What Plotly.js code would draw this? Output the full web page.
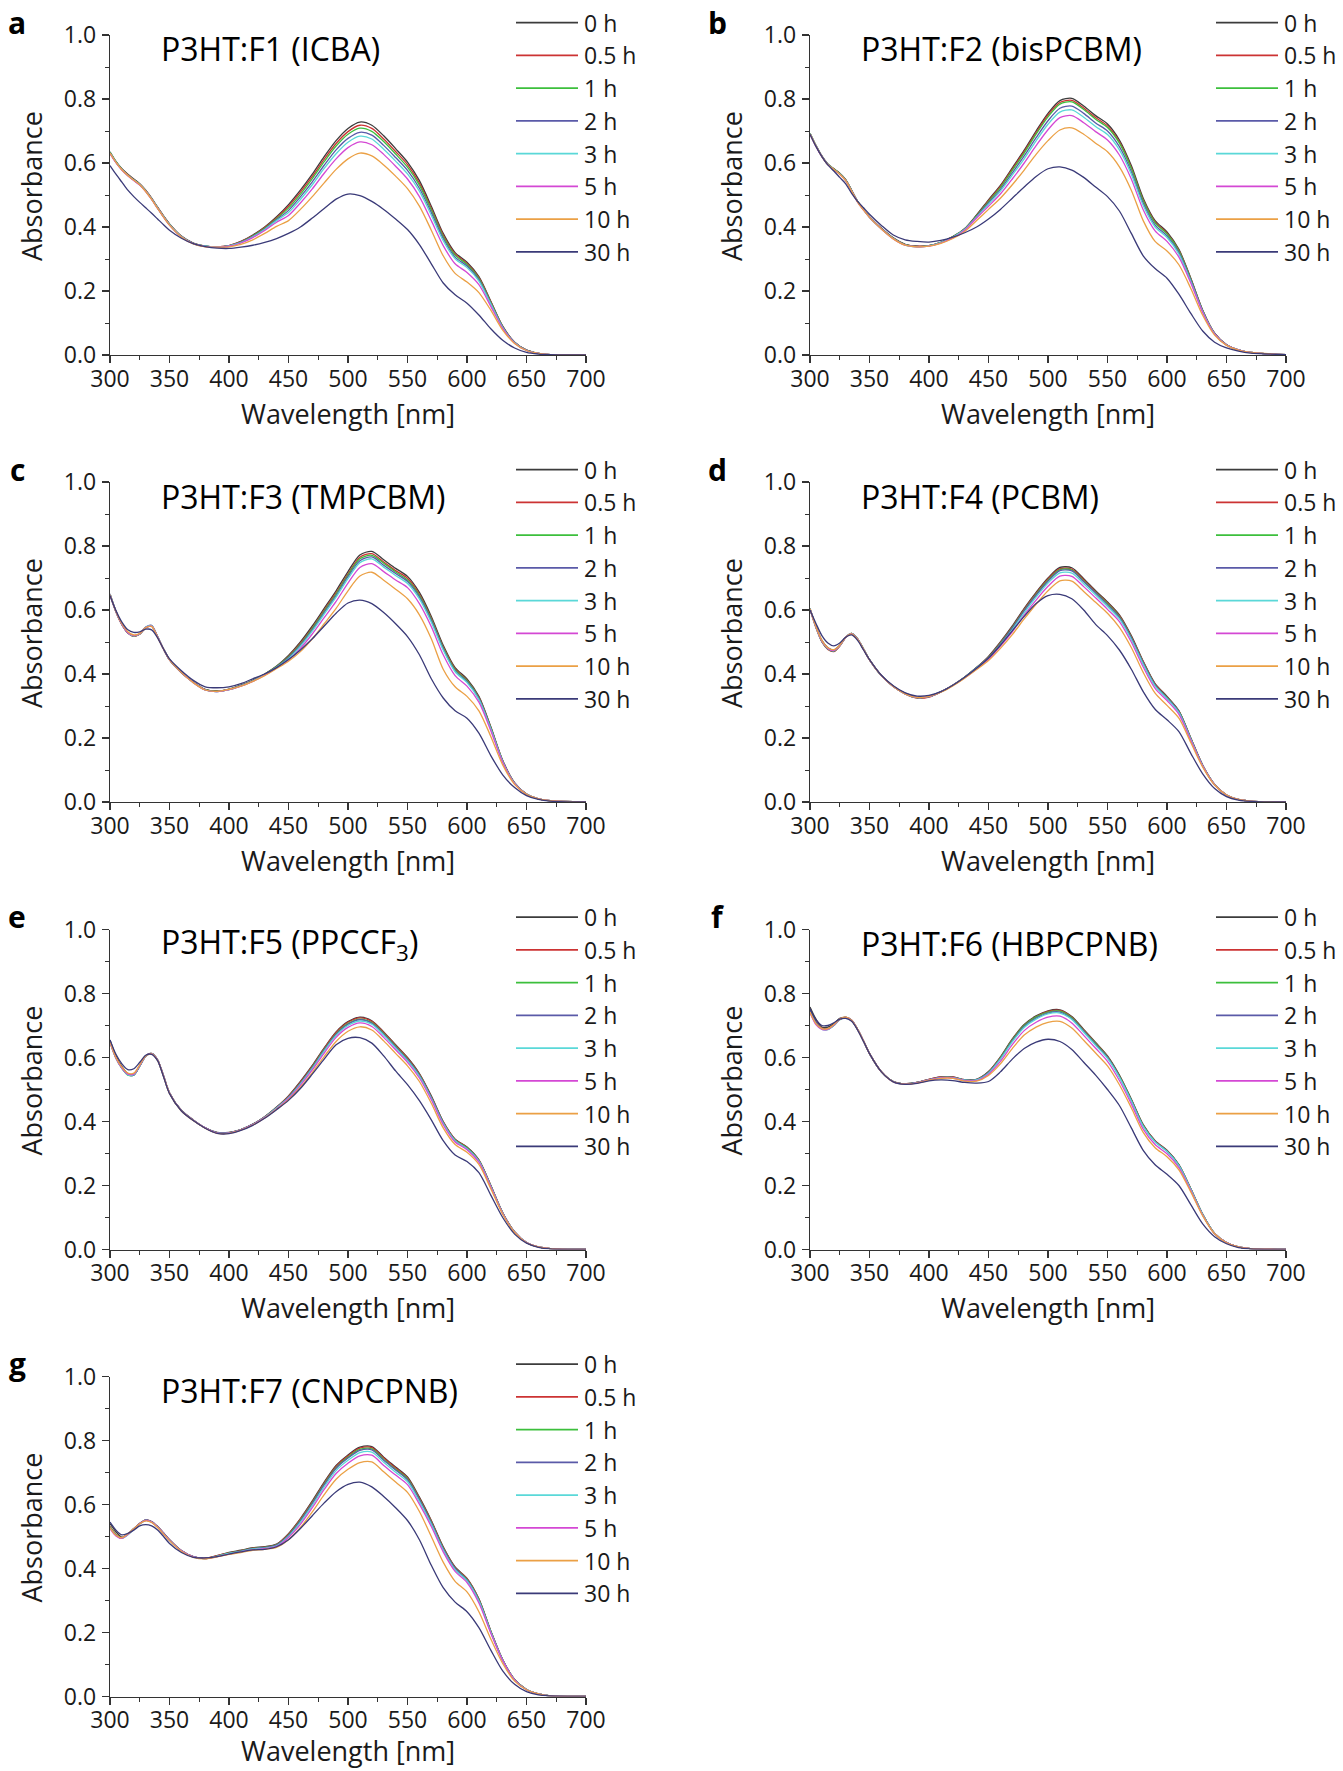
<!DOCTYPE html>
<html><head><meta charset="utf-8">
<script src="https://cdn.plot.ly/plotly-3.0.1.min.js"></script>
<style>html,body{margin:0;padding:0;background:#fff}</style>
</head><body>
<div id="chart" style="width:1343px;height:1771px"></div>
<script>
// ---------------- DATA ----------------
const wavelength = [300,305,310,315,320,325,330,335,340,345,350,
  360,370,380,390,400, 410,420,430,440,450,
  460,470,480,490,500,510,520,530,540,550,
  560,570,580,590,600,610,620,630,640,650,660,670,700];

const hourLabels = ['0 h','0.5 h','1 h','2 h','3 h','5 h','10 h','30 h'];
const panelLetters = ['a','b','c','d','e','f','g'];
const panelTitles = ['P3HT:F1 (ICBA)','P3HT:F2 (bisPCBM)','P3HT:F3 (TMPCBM)','P3HT:F4 (PCBM)',
  'P3HT:F5 (PPCCF<sub>3</sub>)','P3HT:F6 (HBPCPNB)','P3HT:F7 (CNPCPNB)'];
const xTickVals = [300,350,400,450,500,550,600,650,700];
const xTickText = ['300','350','400','450','500','550','600','650','700'];
const yTickVals = [0,0.2,0.4,0.6,0.8,1.0];
const yTickText = ['0.0','0.2','0.4','0.6','0.8','1.0'];

// Panel a: P3HT:F1 (ICBA) — rows: 0,0.5,1,2,3,5,10,30 h
const absF1 = [
 [0.635,0.605,0.582,0.565,0.55,0.535,0.515,0.49,0.462,0.435,0.41, 0.372,0.35,0.34,0.338,0.342, 0.355,0.375,0.40,0.432,0.47, 0.515,0.565,0.62,0.67,0.708,0.728,0.718,0.685,0.645,0.603, 0.545,0.465,0.38,0.32,0.29,0.245,0.168,0.09,0.04,0.015,0.005,0.001,0],
 [0.632,0.603,0.58,0.563,0.548,0.534,0.514,0.489,0.461,0.434,0.409, 0.371,0.349,0.34,0.338,0.342, 0.354,0.373,0.398,0.429,0.465, 0.509,0.558,0.612,0.661,0.698,0.718,0.708,0.675,0.636,0.595, 0.537,0.458,0.375,0.316,0.286,0.242,0.166,0.089,0.04,0.015,0.005,0.001,0],
 [0.633,0.604,0.58,0.562,0.547,0.533,0.513,0.488,0.46,0.433,0.408, 0.37,0.349,0.34,0.338,0.341, 0.353,0.372,0.396,0.426,0.459, 0.502,0.551,0.604,0.653,0.69,0.709,0.699,0.667,0.628,0.587, 0.531,0.453,0.37,0.312,0.283,0.239,0.164,0.088,0.039,0.015,0.005,0.001,0],
 [0.631,0.602,0.579,0.561,0.546,0.532,0.512,0.487,0.459,0.432,0.407, 0.37,0.348,0.34,0.338,0.341, 0.352,0.37,0.394,0.423,0.452, 0.494,0.541,0.593,0.641,0.677,0.696,0.687,0.655,0.617,0.577, 0.521,0.445,0.364,0.306,0.278,0.235,0.161,0.087,0.039,0.015,0.005,0.001,0],
 [0.632,0.603,0.58,0.562,0.547,0.533,0.513,0.488,0.46,0.433,0.408, 0.37,0.348,0.34,0.338,0.341, 0.351,0.369,0.392,0.42,0.445, 0.486,0.532,0.583,0.629,0.665,0.684,0.675,0.643,0.606,0.566, 0.512,0.437,0.357,0.301,0.273,0.231,0.159,0.086,0.038,0.014,0.005,0.001,0],
 [0.63,0.601,0.578,0.56,0.545,0.531,0.511,0.486,0.458,0.431,0.406, 0.369,0.348,0.339,0.337,0.34, 0.35,0.367,0.389,0.415,0.436, 0.475,0.519,0.568,0.613,0.648,0.666,0.657,0.627,0.59,0.55, 0.495,0.42,0.342,0.285,0.258,0.22,0.152,0.083,0.037,0.014,0.005,0.001,0],
 [0.631,0.602,0.579,0.561,0.546,0.532,0.511,0.486,0.458,0.431,0.406, 0.369,0.347,0.338,0.337,0.338, 0.346,0.36,0.38,0.402,0.42, 0.455,0.495,0.538,0.58,0.613,0.631,0.622,0.594,0.559,0.52, 0.465,0.39,0.31,0.255,0.228,0.195,0.14,0.078,0.036,0.014,0.005,0.001,0],
 [0.592,0.565,0.54,0.515,0.495,0.477,0.46,0.443,0.425,0.407,0.39, 0.365,0.348,0.339,0.334,0.333, 0.337,0.343,0.352,0.364,0.38, 0.40,0.428,0.458,0.487,0.503,0.498,0.48,0.455,0.425,0.392, 0.345,0.285,0.225,0.188,0.162,0.125,0.082,0.046,0.022,0.008,0.003,0.001,0]
];

// Panel b: P3HT:F2 (bisPCBM)
const absF2 = [
 [0.693,0.655,0.622,0.597,0.582,0.568,0.548,0.515,0.48,0.455,0.432, 0.396,0.366,0.346,0.34,0.342, 0.352,0.37,0.395,0.438,0.485, 0.53,0.585,0.64,0.70,0.755,0.795,0.802,0.778,0.748,0.722, 0.672,0.592,0.49,0.42,0.385,0.33,0.24,0.14,0.068,0.032,0.016,0.008,0.001],
 [0.692,0.654,0.621,0.596,0.581,0.567,0.547,0.514,0.48,0.455,0.431, 0.395,0.365,0.345,0.34,0.342, 0.352,0.369,0.394,0.436,0.482, 0.527,0.581,0.636,0.695,0.75,0.789,0.796,0.772,0.742,0.716, 0.666,0.586,0.485,0.416,0.381,0.327,0.238,0.139,0.068,0.032,0.016,0.008,0.001],
 [0.692,0.654,0.621,0.596,0.581,0.567,0.547,0.514,0.48,0.455,0.431, 0.395,0.365,0.345,0.339,0.342, 0.352,0.369,0.394,0.435,0.479, 0.523,0.577,0.631,0.69,0.744,0.784,0.791,0.767,0.737,0.711, 0.662,0.583,0.482,0.413,0.378,0.325,0.237,0.138,0.067,0.032,0.016,0.008,0.001],
 [0.691,0.653,0.62,0.595,0.58,0.566,0.546,0.513,0.479,0.454,0.431, 0.395,0.364,0.344,0.339,0.341, 0.351,0.368,0.393,0.433,0.475, 0.517,0.569,0.622,0.679,0.732,0.771,0.778,0.755,0.725,0.70, 0.651,0.573,0.474,0.406,0.372,0.32,0.234,0.137,0.067,0.032,0.016,0.008,0.001],
 [0.692,0.654,0.621,0.596,0.58,0.566,0.546,0.513,0.479,0.454,0.43, 0.394,0.364,0.343,0.338,0.341, 0.351,0.368,0.392,0.431,0.471, 0.512,0.562,0.613,0.669,0.721,0.759,0.766,0.743,0.714,0.689, 0.641,0.565,0.467,0.40,0.367,0.315,0.23,0.135,0.066,0.031,0.016,0.008,0.001],
 [0.69,0.652,0.62,0.595,0.579,0.565,0.545,0.512,0.478,0.453,0.43, 0.394,0.363,0.343,0.338,0.34, 0.35,0.366,0.39,0.428,0.465, 0.503,0.55,0.60,0.654,0.704,0.742,0.748,0.726,0.698,0.672, 0.625,0.55,0.454,0.388,0.355,0.306,0.225,0.133,0.065,0.031,0.016,0.008,0.001],
 [0.691,0.653,0.62,0.595,0.58,0.565,0.545,0.512,0.478,0.453,0.43, 0.394,0.363,0.343,0.338,0.34, 0.349,0.364,0.386,0.42,0.455, 0.49,0.532,0.578,0.627,0.67,0.703,0.71,0.69,0.662,0.635, 0.588,0.515,0.42,0.355,0.325,0.282,0.208,0.124,0.062,0.03,0.015,0.008,0.001],
 [0.69,0.652,0.62,0.594,0.575,0.555,0.535,0.505,0.48,0.46,0.44, 0.405,0.375,0.36,0.355,0.353, 0.358,0.368,0.382,0.40,0.425, 0.455,0.49,0.525,0.558,0.582,0.588,0.578,0.555,0.525,0.495, 0.45,0.38,0.31,0.27,0.24,0.19,0.13,0.075,0.04,0.022,0.012,0.006,0.001]
];

// Panel c: P3HT:F3 (TMPCBM)
const absF3 = [
 [0.65,0.595,0.555,0.528,0.518,0.525,0.545,0.55,0.516,0.478,0.445, 0.405,0.375,0.352,0.347,0.353, 0.365,0.38,0.40,0.425,0.458, 0.50,0.55,0.605,0.66,0.72,0.772,0.783,0.757,0.73,0.705, 0.655,0.58,0.49,0.42,0.385,0.33,0.235,0.13,0.06,0.025,0.01,0.004,0],
 [0.648,0.594,0.554,0.528,0.518,0.524,0.544,0.549,0.515,0.477,0.444, 0.404,0.374,0.351,0.346,0.352, 0.364,0.379,0.399,0.423,0.455, 0.496,0.545,0.60,0.654,0.713,0.765,0.776,0.75,0.723,0.699, 0.649,0.574,0.485,0.416,0.381,0.327,0.233,0.129,0.06,0.025,0.01,0.004,0],
 [0.649,0.595,0.555,0.529,0.519,0.525,0.545,0.55,0.516,0.478,0.445, 0.405,0.374,0.351,0.346,0.352, 0.364,0.379,0.399,0.423,0.453, 0.493,0.542,0.596,0.65,0.709,0.76,0.771,0.746,0.719,0.694, 0.645,0.571,0.482,0.413,0.379,0.325,0.232,0.128,0.059,0.025,0.01,0.004,0],
 [0.65,0.596,0.556,0.53,0.52,0.526,0.547,0.552,0.517,0.478,0.445, 0.405,0.374,0.35,0.345,0.351, 0.363,0.378,0.398,0.422,0.451, 0.49,0.538,0.592,0.645,0.704,0.754,0.766,0.74,0.714,0.689, 0.64,0.567,0.479,0.41,0.376,0.323,0.23,0.127,0.059,0.025,0.01,0.004,0],
 [0.649,0.595,0.555,0.529,0.519,0.525,0.546,0.551,0.516,0.478,0.445, 0.405,0.373,0.35,0.345,0.351, 0.363,0.378,0.397,0.421,0.448, 0.486,0.534,0.587,0.64,0.698,0.748,0.76,0.734,0.708,0.683, 0.635,0.562,0.475,0.407,0.373,0.32,0.228,0.126,0.058,0.024,0.01,0.004,0],
 [0.648,0.595,0.555,0.529,0.52,0.526,0.545,0.55,0.516,0.478,0.445, 0.405,0.373,0.35,0.345,0.351, 0.362,0.377,0.396,0.419,0.444, 0.48,0.525,0.576,0.627,0.684,0.733,0.745,0.72,0.694,0.67, 0.62,0.548,0.46,0.395,0.362,0.312,0.223,0.124,0.057,0.024,0.01,0.004,0],
 [0.648,0.596,0.557,0.532,0.522,0.527,0.545,0.549,0.515,0.478,0.445, 0.405,0.373,0.35,0.346,0.352, 0.362,0.377,0.395,0.417,0.44, 0.47,0.51,0.557,0.605,0.66,0.706,0.718,0.693,0.665,0.635, 0.585,0.51,0.415,0.36,0.33,0.285,0.205,0.116,0.055,0.024,0.01,0.004,0],
 [0.645,0.598,0.562,0.538,0.53,0.532,0.54,0.538,0.513,0.478,0.447, 0.41,0.38,0.36,0.357,0.36, 0.37,0.385,0.40,0.42,0.445, 0.475,0.51,0.55,0.59,0.622,0.631,0.62,0.592,0.557,0.517, 0.46,0.385,0.325,0.285,0.262,0.215,0.145,0.085,0.045,0.02,0.008,0.003,0]
];

// Panel d: P3HT:F4 (PCBM)
const absF4 = [
 [0.605,0.55,0.505,0.482,0.475,0.49,0.515,0.527,0.51,0.478,0.445, 0.395,0.362,0.34,0.327,0.33, 0.345,0.365,0.39,0.42,0.455, 0.50,0.55,0.605,0.655,0.70,0.733,0.732,0.698,0.66,0.625, 0.585,0.52,0.44,0.37,0.33,0.285,0.20,0.115,0.055,0.022,0.008,0.003,0],
 [0.603,0.545,0.50,0.477,0.47,0.487,0.514,0.527,0.51,0.478,0.445, 0.395,0.361,0.338,0.325,0.328, 0.344,0.365,0.39,0.42,0.453, 0.498,0.547,0.602,0.652,0.697,0.729,0.728,0.695,0.657,0.622, 0.582,0.517,0.438,0.368,0.328,0.284,0.199,0.115,0.055,0.022,0.008,0.003,0],
 [0.604,0.546,0.501,0.478,0.471,0.488,0.515,0.527,0.51,0.478,0.445, 0.395,0.361,0.338,0.326,0.329, 0.344,0.365,0.39,0.42,0.452, 0.496,0.545,0.599,0.649,0.693,0.726,0.725,0.691,0.655,0.619, 0.579,0.515,0.436,0.366,0.327,0.283,0.198,0.114,0.055,0.022,0.008,0.003,0],
 [0.603,0.546,0.502,0.479,0.472,0.488,0.514,0.526,0.509,0.477,0.444, 0.395,0.361,0.338,0.326,0.329, 0.344,0.365,0.39,0.42,0.451, 0.494,0.543,0.597,0.646,0.69,0.723,0.722,0.688,0.653,0.616, 0.577,0.513,0.434,0.365,0.325,0.282,0.197,0.114,0.054,0.022,0.008,0.003,0],
 [0.604,0.547,0.503,0.48,0.473,0.489,0.515,0.527,0.51,0.478,0.445, 0.395,0.361,0.338,0.327,0.33, 0.344,0.364,0.389,0.418,0.449, 0.491,0.538,0.591,0.64,0.684,0.716,0.715,0.682,0.647,0.611, 0.572,0.508,0.43,0.362,0.323,0.279,0.196,0.113,0.054,0.022,0.008,0.003,0],
 [0.603,0.547,0.503,0.48,0.473,0.489,0.515,0.526,0.509,0.477,0.444, 0.395,0.361,0.338,0.327,0.33, 0.344,0.364,0.388,0.416,0.446, 0.487,0.532,0.584,0.631,0.674,0.706,0.705,0.673,0.638,0.602, 0.564,0.50,0.422,0.355,0.317,0.274,0.193,0.112,0.054,0.022,0.008,0.003,0],
 [0.603,0.548,0.505,0.482,0.476,0.49,0.515,0.525,0.508,0.477,0.444, 0.395,0.361,0.338,0.327,0.33, 0.343,0.363,0.387,0.414,0.442, 0.48,0.523,0.572,0.618,0.66,0.691,0.69,0.658,0.624,0.59, 0.546,0.483,0.405,0.34,0.302,0.262,0.186,0.109,0.053,0.022,0.008,0.003,0],
 [0.60,0.558,0.52,0.497,0.488,0.497,0.515,0.522,0.505,0.475,0.445, 0.396,0.363,0.341,0.331,0.333, 0.345,0.365,0.39,0.418,0.45, 0.49,0.535,0.58,0.62,0.645,0.649,0.635,0.60,0.555,0.52, 0.475,0.415,0.345,0.29,0.257,0.22,0.152,0.088,0.042,0.017,0.006,0.002,0]
];

// Panel e: P3HT:F5 (PPCCF3)
const absF5 = [
 [0.655,0.605,0.572,0.55,0.548,0.575,0.605,0.613,0.593,0.543,0.49, 0.435,0.405,0.38,0.366,0.366, 0.375,0.392,0.415,0.445,0.48, 0.525,0.575,0.63,0.68,0.712,0.726,0.715,0.68,0.64,0.60, 0.55,0.48,0.40,0.345,0.32,0.28,0.20,0.115,0.055,0.022,0.008,0.003,0],
 [0.65,0.60,0.568,0.547,0.546,0.574,0.604,0.612,0.592,0.542,0.489, 0.434,0.404,0.38,0.365,0.365, 0.375,0.391,0.415,0.444,0.479, 0.523,0.573,0.628,0.678,0.71,0.724,0.713,0.678,0.638,0.598, 0.548,0.478,0.399,0.344,0.319,0.279,0.20,0.115,0.055,0.022,0.008,0.003,0],
 [0.648,0.598,0.566,0.545,0.545,0.573,0.604,0.612,0.592,0.542,0.489, 0.434,0.404,0.38,0.365,0.365, 0.375,0.391,0.414,0.443,0.477, 0.52,0.57,0.625,0.674,0.706,0.72,0.709,0.675,0.635,0.595, 0.546,0.476,0.397,0.342,0.318,0.278,0.199,0.114,0.055,0.022,0.008,0.003,0],
 [0.65,0.60,0.567,0.546,0.545,0.573,0.604,0.612,0.592,0.542,0.489, 0.434,0.404,0.38,0.365,0.365, 0.375,0.391,0.414,0.443,0.476, 0.519,0.568,0.623,0.672,0.704,0.718,0.707,0.673,0.633,0.593, 0.544,0.475,0.396,0.341,0.316,0.277,0.198,0.114,0.055,0.022,0.008,0.003,0],
 [0.648,0.598,0.566,0.546,0.546,0.574,0.604,0.612,0.592,0.542,0.489, 0.434,0.404,0.38,0.364,0.364, 0.374,0.39,0.413,0.442,0.474, 0.517,0.566,0.62,0.669,0.70,0.714,0.704,0.67,0.63,0.59, 0.541,0.472,0.394,0.34,0.315,0.276,0.197,0.113,0.054,0.022,0.008,0.003,0],
 [0.647,0.598,0.567,0.548,0.548,0.575,0.605,0.612,0.592,0.542,0.489, 0.434,0.404,0.38,0.364,0.364, 0.374,0.39,0.412,0.44,0.472, 0.513,0.561,0.614,0.663,0.694,0.708,0.697,0.663,0.624,0.585, 0.536,0.468,0.39,0.336,0.312,0.273,0.195,0.112,0.054,0.022,0.008,0.003,0],
 [0.648,0.60,0.57,0.551,0.551,0.577,0.605,0.611,0.591,0.541,0.488, 0.433,0.403,0.379,0.363,0.363, 0.373,0.389,0.411,0.438,0.468, 0.507,0.553,0.603,0.65,0.682,0.696,0.686,0.652,0.613,0.574, 0.525,0.457,0.38,0.328,0.304,0.266,0.19,0.11,0.053,0.021,0.008,0.003,0],
 [0.655,0.61,0.58,0.562,0.565,0.585,0.607,0.61,0.59,0.54,0.487, 0.433,0.403,0.379,0.363,0.362, 0.372,0.388,0.41,0.437,0.466, 0.503,0.548,0.595,0.64,0.66,0.662,0.645,0.605,0.558,0.515, 0.465,0.405,0.34,0.295,0.275,0.24,0.17,0.10,0.048,0.02,0.007,0.002,0]
];

// Panel f: P3HT:F6 (HBPCPNB)
const absF6 = [
 [0.758,0.72,0.695,0.695,0.705,0.722,0.725,0.715,0.688,0.652,0.613, 0.556,0.525,0.518,0.522,0.532, 0.539,0.539,0.531,0.532,0.556, 0.602,0.658,0.703,0.73,0.746,0.749,0.728,0.688,0.647,0.605, 0.545,0.47,0.39,0.34,0.31,0.265,0.19,0.11,0.05,0.022,0.008,0.003,0],
 [0.75,0.712,0.692,0.69,0.702,0.72,0.725,0.717,0.688,0.652,0.613, 0.556,0.525,0.518,0.522,0.532, 0.539,0.539,0.531,0.532,0.555, 0.60,0.656,0.701,0.728,0.744,0.747,0.726,0.686,0.645,0.603, 0.543,0.468,0.389,0.339,0.309,0.264,0.19,0.11,0.05,0.022,0.008,0.003,0],
 [0.745,0.708,0.69,0.688,0.70,0.718,0.725,0.716,0.688,0.651,0.612, 0.555,0.525,0.518,0.522,0.531, 0.538,0.538,0.53,0.531,0.554, 0.599,0.655,0.70,0.727,0.742,0.745,0.724,0.684,0.644,0.602, 0.542,0.468,0.388,0.338,0.308,0.264,0.189,0.11,0.05,0.022,0.008,0.003,0],
 [0.748,0.71,0.691,0.689,0.701,0.719,0.725,0.716,0.688,0.651,0.612, 0.555,0.525,0.518,0.522,0.531, 0.538,0.538,0.53,0.531,0.553, 0.597,0.652,0.697,0.723,0.739,0.742,0.721,0.682,0.641,0.60, 0.54,0.466,0.386,0.337,0.307,0.263,0.188,0.109,0.05,0.022,0.008,0.003,0],
 [0.742,0.705,0.688,0.687,0.70,0.718,0.725,0.716,0.688,0.651,0.612, 0.555,0.524,0.517,0.521,0.53, 0.537,0.537,0.529,0.53,0.551, 0.595,0.649,0.694,0.72,0.736,0.739,0.719,0.679,0.638,0.597, 0.538,0.464,0.385,0.336,0.306,0.262,0.188,0.109,0.05,0.022,0.008,0.003,0],
 [0.74,0.703,0.688,0.688,0.701,0.719,0.725,0.716,0.688,0.651,0.612, 0.555,0.524,0.517,0.521,0.53, 0.536,0.536,0.528,0.528,0.548, 0.588,0.64,0.684,0.71,0.726,0.729,0.708,0.669,0.629,0.588, 0.528,0.455,0.376,0.328,0.299,0.256,0.184,0.107,0.049,0.022,0.008,0.003,0],
 [0.742,0.706,0.69,0.69,0.703,0.72,0.726,0.716,0.688,0.651,0.612, 0.555,0.524,0.517,0.52,0.529, 0.535,0.535,0.526,0.526,0.544, 0.58,0.628,0.67,0.695,0.71,0.713,0.692,0.654,0.614,0.574, 0.515,0.443,0.366,0.318,0.29,0.249,0.18,0.105,0.049,0.021,0.008,0.003,0],
 [0.752,0.718,0.70,0.70,0.708,0.72,0.722,0.713,0.686,0.65,0.612, 0.555,0.524,0.516,0.519,0.527, 0.53,0.528,0.522,0.52,0.525, 0.555,0.595,0.628,0.648,0.657,0.65,0.625,0.585,0.545,0.50, 0.45,0.38,0.31,0.265,0.235,0.20,0.14,0.08,0.04,0.018,0.006,0.002,0]
];

// Panel g: P3HT:F7 (CNPCPNB)
const absF7 = [
 [0.54,0.515,0.498,0.508,0.525,0.54,0.551,0.546,0.53,0.51,0.489, 0.455,0.437,0.432,0.44,0.45, 0.457,0.465,0.468,0.476,0.509, 0.556,0.611,0.67,0.722,0.755,0.779,0.781,0.748,0.717,0.686, 0.623,0.55,0.468,0.405,0.369,0.305,0.205,0.115,0.053,0.022,0.008,0.002,0],
 [0.532,0.508,0.496,0.507,0.524,0.541,0.552,0.547,0.531,0.511,0.49, 0.456,0.437,0.432,0.44,0.449, 0.456,0.464,0.467,0.475,0.507, 0.554,0.608,0.667,0.719,0.752,0.776,0.778,0.745,0.714,0.683, 0.62,0.548,0.466,0.403,0.368,0.304,0.204,0.115,0.053,0.022,0.008,0.002,0],
 [0.53,0.506,0.495,0.506,0.523,0.54,0.551,0.546,0.53,0.51,0.489, 0.455,0.436,0.431,0.439,0.448, 0.455,0.463,0.466,0.474,0.505, 0.551,0.605,0.664,0.715,0.748,0.772,0.774,0.741,0.71,0.68, 0.617,0.545,0.464,0.401,0.366,0.302,0.203,0.114,0.053,0.022,0.008,0.002,0],
 [0.528,0.505,0.495,0.507,0.524,0.541,0.552,0.547,0.531,0.511,0.49, 0.456,0.437,0.431,0.438,0.447, 0.454,0.462,0.465,0.473,0.503, 0.549,0.603,0.661,0.713,0.745,0.769,0.771,0.738,0.708,0.677, 0.615,0.543,0.462,0.40,0.364,0.30,0.202,0.114,0.052,0.022,0.008,0.002,0],
 [0.527,0.504,0.494,0.505,0.522,0.539,0.55,0.545,0.529,0.509,0.488, 0.455,0.436,0.431,0.438,0.447, 0.453,0.461,0.464,0.471,0.50, 0.544,0.597,0.655,0.706,0.738,0.762,0.764,0.732,0.701,0.671, 0.609,0.538,0.458,0.396,0.361,0.298,0.201,0.113,0.052,0.022,0.008,0.002,0],
 [0.525,0.502,0.494,0.506,0.523,0.54,0.55,0.545,0.529,0.509,0.488, 0.455,0.436,0.431,0.437,0.445, 0.452,0.459,0.462,0.469,0.497, 0.538,0.59,0.647,0.697,0.729,0.752,0.754,0.722,0.692,0.662, 0.601,0.531,0.452,0.391,0.356,0.292,0.198,0.112,0.052,0.021,0.008,0.002,0],
 [0.527,0.504,0.496,0.508,0.524,0.54,0.549,0.544,0.528,0.508,0.487, 0.454,0.435,0.43,0.436,0.444, 0.45,0.457,0.46,0.466,0.49, 0.528,0.577,0.631,0.679,0.71,0.731,0.733,0.702,0.67,0.638, 0.578,0.50,0.42,0.36,0.327,0.265,0.18,0.103,0.048,0.021,0.008,0.002,0],
 [0.545,0.52,0.505,0.51,0.52,0.533,0.537,0.533,0.52,0.50,0.478, 0.45,0.435,0.433,0.437,0.445, 0.452,0.458,0.46,0.468,0.49, 0.525,0.565,0.605,0.64,0.663,0.67,0.655,0.625,0.59,0.55, 0.49,0.41,0.34,0.295,0.265,0.215,0.145,0.08,0.038,0.015,0.005,0.002,0]
];

const panelData = [absF1, absF2, absF3, absF4, absF5, absF6, absF7];
const seriesColors = ['#3c3c3c','#cc3333','#3cbf3c','#5a5aa8','#5ad8d8','#d448d4','#eba045','#3a3a78'];

// ---------------- LAYOUT (pixel geometry) ----------------
const W = 1343, H = 1771;
const colLeft = [110, 810];
const rowTop = [35, 482, 929.5, 1376.5];
const xTitleGap = [58, 58, 58, 54];
const plotW = 476, plotH = 320;
const px = x => x / W;
const py = y => 1 - y / H;
const FONT = "'Open Sans', 'Noto Sans', sans-serif";
const INK = '#1a1a1a';

const traces = [];
const layout = {
  width: W, height: H,
  margin: {l: 0, r: 0, t: 0, b: 0},
  paper_bgcolor: '#ffffff', plot_bgcolor: '#ffffff',
  showlegend: false,
  font: {family: FONT, color: INK},
  annotations: [], shapes: []
};

panelData.forEach((series, i) => {
  const col = i % 2, row = Math.floor(i / 2);
  const L = colLeft[col], T = rowTop[row];
  const sfx = i === 0 ? '' : String(i + 1);
  const xa = 'x' + sfx, ya = 'y' + sfx;

  layout['xaxis' + sfx] = {
    domain: [px(L), px(L + plotW)], anchor: ya,
    range: [300, 700], fixedrange: true,
    tickmode: 'array', tickvals: xTickVals, ticktext: xTickText,
    ticks: 'outside', ticklen: 7, tickwidth: 1.2, tickcolor: '#333',
    minor: {tickmode: 'linear', tick0: 300, dtick: 25, ticks: 'outside', ticklen: 4, tickwidth: 1, tickcolor: '#333'},
    showline: true, linecolor: '#333', linewidth: 1.3,
    showgrid: false, zeroline: false,
    ticklabelstandoff: -4,
    tickfont: {family: FONT, size: 23, color: INK}
  };
  layout['yaxis' + sfx] = {
    domain: [py(T + plotH), py(T)], anchor: xa,
    range: [0, 1.0], fixedrange: true,
    tickmode: 'array', tickvals: yTickVals, ticktext: yTickText,
    ticks: 'outside', ticklen: 7, tickwidth: 1.2, tickcolor: '#333',
    minor: {tickmode: 'linear', tick0: 0, dtick: 0.1, ticks: 'outside', ticklen: 4, tickwidth: 1, tickcolor: '#333'},
    showline: true, linecolor: '#333', linewidth: 1.3,
    showgrid: false, zeroline: false,
    ticklabelstandoff: 1,
    tickfont: {family: FONT, size: 23, color: INK}
  };

  series.forEach((vals, j) => {
    traces.push({
      type: 'scatter', mode: 'lines',
      x: wavelength, y: vals, xaxis: xa, yaxis: ya,
      name: hourLabels[j],
      line: {color: seriesColors[j], width: 1.3, shape: 'spline', smoothing: 0.8},
      hoverinfo: 'skip', showlegend: false
    });
  });

  // panel letter
  layout.annotations.push({
    xref: 'paper', yref: 'paper', x: px(L - 93), y: py(T - 13),
    xanchor: 'center', yanchor: 'middle', showarrow: false,
    text: '<b>' + panelLetters[i] + '</b>', font: {family: FONT, size: 30, color: '#000'}
  });
  // panel title
  layout.annotations.push({
    xref: 'paper', yref: 'paper', x: px(L + 49), y: py(T + 14),
    xanchor: 'left', yanchor: 'middle', showarrow: false,
    text: panelTitles[i], font: {family: FONT, size: 32, color: '#000'}
  });
  // axis titles
  layout.annotations.push({
    xref: 'paper', yref: 'paper', x: px(L + plotW / 2), y: py(T + plotH + xTitleGap[row]),
    xanchor: 'center', yanchor: 'middle', showarrow: false,
    text: 'Wavelength [nm]', font: {family: FONT, size: 27, color: INK}
  });
  layout.annotations.push({
    xref: 'paper', yref: 'paper', x: px(L - 79), y: py(T + 151),
    xanchor: 'center', yanchor: 'middle', showarrow: false, textangle: -90,
    text: 'Absorbance', font: {family: FONT, size: 27, color: INK}
  });
  // legend
  hourLabels.forEach((lab, j) => {
    const yy = T - 12.4 + 32.75 * j;
    layout.shapes.push({
      type: 'line', xref: 'paper', yref: 'paper',
      x0: px(L + 406), x1: px(L + 468), y0: py(yy), y1: py(yy),
      line: {color: seriesColors[j], width: 1.6}
    });
    layout.annotations.push({
      xref: 'paper', yref: 'paper', x: px(L + 472), y: py(yy),
      xanchor: 'left', yanchor: 'middle', showarrow: false,
      text: lab, font: {family: FONT, size: 23, color: INK}
    });
  });
});

Plotly.newPlot('chart', traces, layout, {staticPlot: true, displayModeBar: false});
</script>
</body></html>
